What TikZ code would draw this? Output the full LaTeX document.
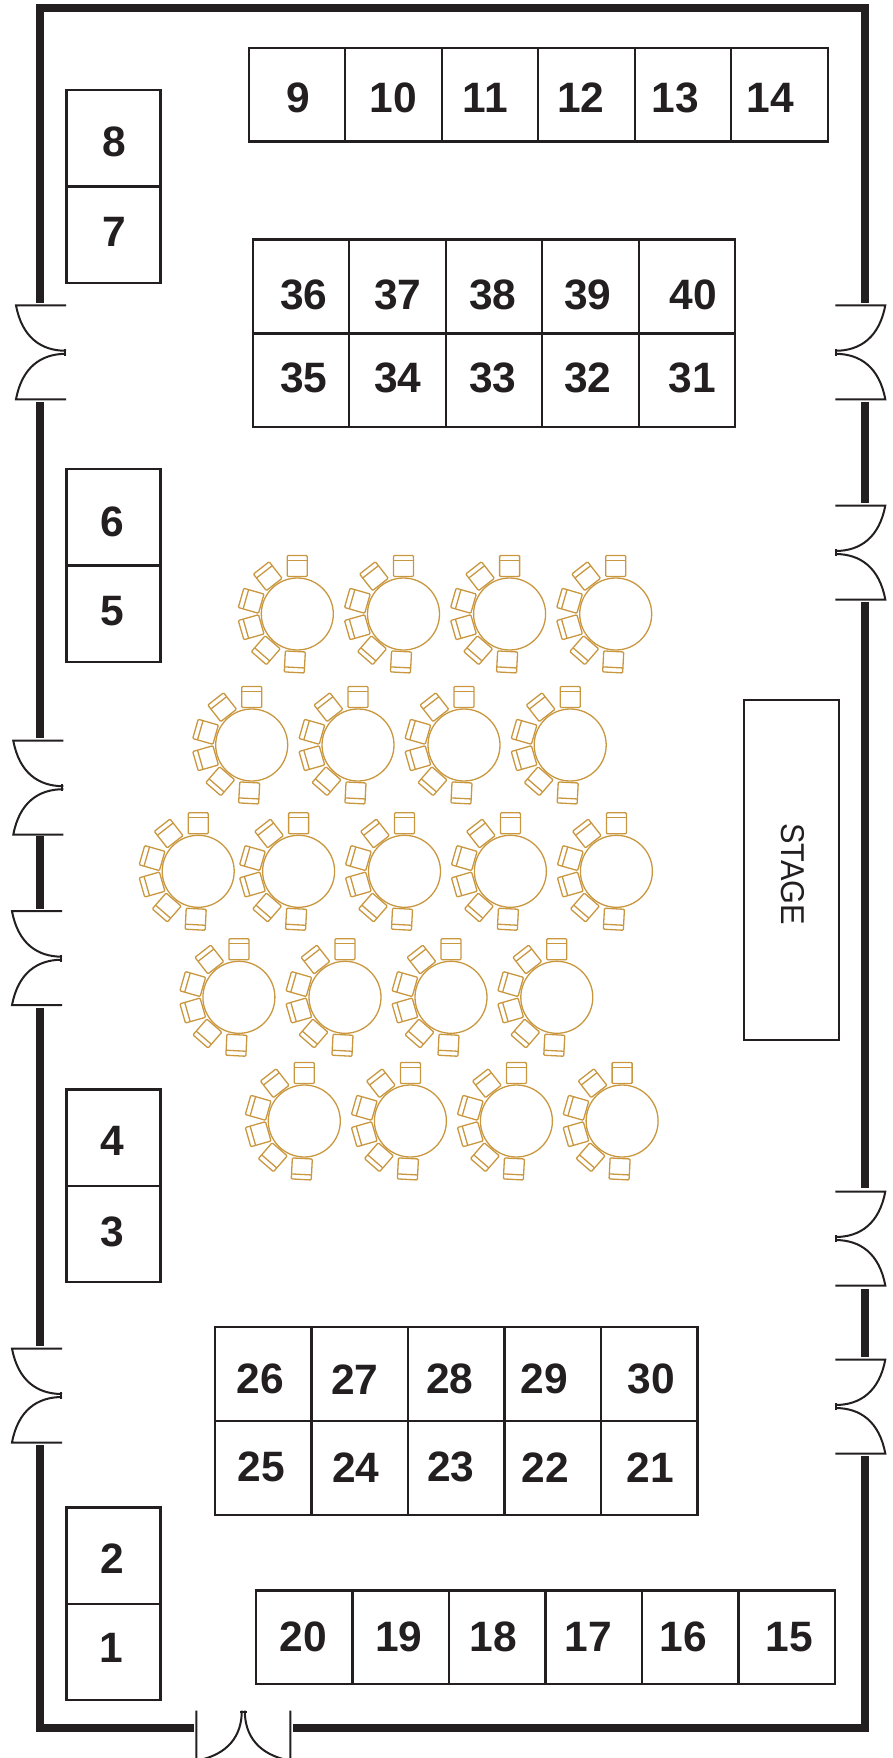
\documentclass[tikz,border=0pt]{standalone}
\usepackage{fontspec}
\setmainfont{Liberation Sans}
\definecolor{ink}{HTML}{231F20}
\definecolor{seatgold}{HTML}{C9973F}
\tikzset{
    wall/.style={ink, line width=8pt},
    doorline/.style={ink, line width=2pt},
    boothbox/.style={draw=ink, line width=2.3pt, inner sep=0pt, minimum width=96.5pt, minimum height=93.8pt},
    sidebox/.style={boothbox, minimum width=94pt, minimum height=96.4pt},
    boothnum/.style={ink, inner sep=0pt, yshift=-1pt, font=\fontsize{42.5}{42.5}\selectfont\bfseries},
    seatline/.style={seatgold, line width=1.3pt},
    pics/door/.style={code={
        \draw[doorline] (0,-47) -- (-50,-47) .. controls (-44,-15) and (-25,-1.5) .. (0,-1.5);
        \draw[doorline] (0,47) -- (-50,47) .. controls (-44,15) and (-25,1.5) .. (0,1.5);
        \draw[doorline] (-1,-3.5) -- (-1,3.5);
    }},
    pics/roundtable/.style={code={
        \draw[seatline] (0,0) circle (36);
        \foreach \a in {90,128,164,196,229,267} {
            \begin{scope}[rotate=\a]
                \draw[seatline, rounded corners=1pt] (37.5,-10) rectangle (58.5,10);
                \draw[seatline] (53.5,-10) -- (53.5,10);
            \end{scope}
        }
    }},
}

\begin{document}
\begin{tikzpicture}[x=1pt, y=-1pt]
    \useasboundingbox (0,0) rectangle (893,1758);

    % walls
    \draw[wall] (40,302.7) |- (864.7,8.5) -- (864.7,302.7);
    \draw[wall] (40,402) -- (40,737.7);
    \draw[wall] (40,836.3) -- (40,909);
    \draw[wall] (40,1007.7) -- (40,1345.7);
    \draw[wall] (40,1445.3) |- (194,1728);
    \draw[wall] (293,1728) -| (864.7,1456);
    \draw[wall] (864.7,402) -- (864.7,502.5);
    \draw[wall] (864.7,602) -- (864.7,1188);
    \draw[wall] (864.7,1289) -- (864.7,1356.7);

    % doors
    \foreach \dx/\dy in {66/352.3, 63.3/787.7, 62/958.2, 62/1395.5}
        \pic at (\dx,\dy) {door};
    \foreach \dy in {352.3, 552.5, 1238.5, 1406.5}
        \pic[xscale=-1] at (835.3,\dy) {door};
    \pic[rotate=90] at (243.3,1710.7) {door};

    % booths along the left wall
    \foreach \n/\cy/\tx/\ty in {8/138.4/114.8/140.5, 7/234.8/114.8/231.3, 6/517.2/112.2/520.6, 5/613.6/112.2/610.3,
                                4/1137.6/112.2/1139.8, 3/1234/112.2/1230.7, 2/1555.6/112.2/1557.2, 1/1652/111/1647} {
        \node[sidebox] (booth\n) at (113.5,\cy) {};
        \node[boothnum] (num\n) at (\tx,\ty) {\n};
    }

    % top row
    \foreach \n/\cx/\tx in {9/296.95/298.3, 10/393.45/393.3, 11/489.95/485.3, 12/586.45/580.7, 13/682.95/675.3, 14/779.45/770.5} {
        \node[boothbox] (booth\n) at (\cx,94.7) {};
        \node[boothnum] (num\n) at (\tx,97) {\n};
    }

    % upper block
    \foreach \n/\cx/\tx in {36/300.95/303.8, 37/397.45/398, 38/493.95/492.8, 39/590.45/587.7, 40/686.95/693.5} {
        \node[boothbox] (booth\n) at (\cx,286.5) {};
        \node[boothnum] (num\n) at (\tx,293.8) {\n};
    }
    \foreach \n/\cx/\tx in {35/300.95/303.8, 34/397.45/398, 33/493.95/492.8, 32/590.45/587.7, 31/686.95/692.2} {
        \node[boothbox] (booth\n) at (\cx,380.3) {};
        \node[boothnum] (num\n) at (\tx,377.2) {\n};
    }

    % lower block
    \foreach \n/\cx/\tx in {26/263.25/260.3, 27/359.75/354.8, 28/456.25/450, 29/552.75/544.5, 30/649.25/651} {
        \node[boothbox] (booth\n) at (\cx,1374) {};
        \node[boothnum] (num\n) at (\tx,1378.3) {\n};
    }
    \foreach \n/\cx/\tx in {25/263.25/261.3, 24/359.75/356, 23/456.25/451, 22/552.75/545.3, 21/649.25/650.2} {
        \node[boothbox] (booth\n) at (\cx,1467.8) {};
        \node[boothnum] (num\n) at (\tx,1466.2) {\n};
    }

    % bottom row
    \foreach \n/\cx/\tx in {20/304.25/303.3, 19/400.75/398.7, 18/497.25/493.5, 17/593.75/588, 16/690.25/683, 15/786.75/789.5} {
        \node[boothbox] (booth\n) at (\cx,1637.3) {};
        \node[boothnum] (num\n) at (\tx,1636.2) {\n};
    }

    % stage
    \node[boothbox, minimum width=95pt, minimum height=340.3pt] (stage) at (791.8,869.9) {};
    \node[ink, inner sep=0pt, rotate=-90, font=\fontsize{33}{33}\selectfont] (stagetext) at (793.3,874) {\scalebox{0.93}[1]{STAGE}};

    % round tables
    \foreach \cx in {297.3, 403.5, 509.6, 615.7}
        \pic at (\cx,614) {roundtable};
    \foreach \cx in {251.7, 358, 464, 570.2}
        \pic at (\cx,745) {roundtable};
    \foreach \cx in {198.2, 298.6, 404.5, 510.4, 616.4}
        \pic at (\cx,871.3) {roundtable};
    \foreach \cx in {238.9, 345, 451, 556.8}
        \pic at (\cx,997.3) {roundtable};
    \foreach \cx in {304.3, 410.4, 516.4, 622.1}
        \pic at (\cx,1121) {roundtable};
\end{tikzpicture}
\end{document}
